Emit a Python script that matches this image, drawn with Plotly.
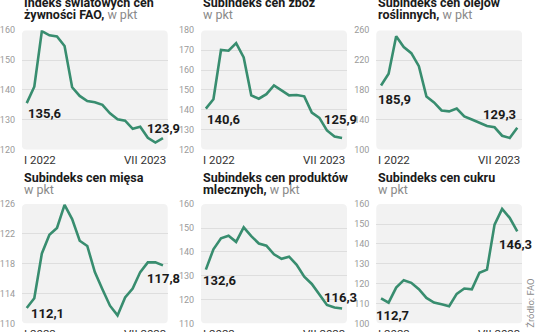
import plotly.graph_objects as go

# Monthly FAO price indices, January 2022 - July 2023 (points)
months = ["I 2022", "II 2022", "III 2022", "IV 2022", "V 2022", "VI 2022", "VII 2022",
          "VIII 2022", "IX 2022", "X 2022", "XI 2022", "XII 2022", "I 2023", "II 2023",
          "III 2023", "IV 2023", "V 2023", "VI 2023", "VII 2023"]

food = [135.6, 141.1, 159.7, 158.3, 157.9, 154.7, 140.9, 138.0, 136.3, 135.9,
        135.0, 132.2, 130.2, 129.7, 127.0, 127.7, 124.0, 122.4, 123.9]
cereals = [140.6, 145.3, 170.1, 169.7, 173.5, 166.3, 147.3, 145.6, 147.9, 152.3,
           149.8, 147.3, 147.5, 146.8, 138.6, 136.0, 129.7, 126.6, 125.9]
oils = [185.9, 201.7, 251.8, 237.5, 229.3, 211.8, 171.1, 163.3, 152.6, 151.3,
        155.2, 144.6, 140.4, 135.9, 131.8, 130.0, 118.7, 115.8, 129.3]
meat = [112.1, 113.4, 119.4, 121.9, 122.8, 125.9, 124.0, 121.1, 120.4, 116.9,
        114.6, 112.4, 111.1, 113.5, 114.7, 116.9, 118.2, 118.2, 117.8]
dairy = [132.6, 141.1, 145.7, 146.8, 144.2, 150.3, 146.6, 143.5, 142.6, 139.0,
         137.1, 138.0, 134.6, 129.6, 126.6, 122.4, 117.8, 116.7, 116.3]
sugar = [112.7, 110.5, 118.1, 121.8, 120.5, 117.3, 112.9, 110.6, 109.7, 108.7,
         114.9, 117.6, 117.2, 125.5, 127.1, 149.7, 157.6, 153.1, 146.3]

titles_line1 = ["Indeks światowych cen", "Subindeks cen zbóż", "Subindeks cen olejów",
                "Subindeks cen mięsa", "Subindeks cen produktów", "Subindeks cen cukru"]
titles_line2 = ["żywności FAO,", "", "roślinnych,", "", "mlecznych,", ""]
unit = "w pkt"

y_ticks = [
    [120, 130, 140, 150, 160],
    [120, 130, 140, 150, 160, 170, 180],
    [100, 140, 180, 220, 260],
    [110, 114, 118, 122, 126],
    [110, 120, 130, 140, 150, 160],
    [100, 110, 120, 130, 140, 150, 160],
]
series = [food, cereals, oils, meat, dairy, sugar]
source = "Źródło: FAO"

# ---- layout geometry (pixels) ----
W, H = 536, 332
col_left = [15, 196.5, 374]
panel_w = 148
row_top = [26, 205.3]
row_title_gap = [28.5, 27.5]   # distance from panel top to centre of first title line
panel_h = 123.2
x_range = [-0.65, len(months) - 1 + 0.65]

LINE = "#388d6f"
BG = "#f2f2f2"
GRID = "#dedede"
NARROW = "Liberation Sans Narrow, Roboto, sans-serif"
SANS = "Roboto, Liberation Sans, sans-serif"

# label offsets (px): (first dx, first dy, last dx, last dy), dy positive = up
label_offsets = [
    (-1, -10, 19, 10),
    (-1, -11, 17, 18),
    (-5, -14, 1, 13.5),
    (2, -6, 19, -13.5),
    (-5, -11, 17, 11),
    (-7, -17, 17, -13),
]


def fmt(v):
    return f"{v:.1f}".replace(".", ",")


fig = go.Figure()
annotations = []
shapes = []

for i, vals in enumerate(series):
    r, c = divmod(i, 3)
    n = i + 1
    xa = "x" if n == 1 else f"x{n}"
    ya = "y" if n == 1 else f"y{n}"
    left = col_left[c]
    top = row_top[r]
    x_dom = [left / W, (left + panel_w) / W]
    y_dom = [1 - (top + panel_h) / H, 1 - top / H]
    ticks = y_ticks[i]
    y_range = [ticks[0], ticks[-1]]

    fig.add_trace(go.Scatter(
        x=list(range(len(months))), y=vals, mode="lines",
        line=dict(color=LINE, width=2.6), xaxis=xa, yaxis=ya,
        hoverinfo="skip", showlegend=False,
    ))

    fig.layout[f"xaxis{'' if n == 1 else n}"] = dict(
        domain=x_dom, range=x_range, showgrid=False, zeroline=False,
        showticklabels=False, showline=False, anchor=ya, fixedrange=True,
    )
    fig.layout[f"yaxis{'' if n == 1 else n}"] = dict(
        domain=y_dom, range=y_range, tickvals=ticks, showgrid=True,
        gridcolor=GRID, gridwidth=1, zeroline=False, showline=False,
        ticks="outside", ticklen=4, tickcolor="rgba(0,0,0,0)",
        tickfont=dict(family=NARROW, size=9, color="#9a9a9a"),
        anchor=xa, fixedrange=True,
    )

    # rounded background panel
    px_x = panel_w / (x_range[1] - x_range[0])
    px_y = panel_h / (y_range[1] - y_range[0])
    rad = 5
    rx, ry = rad / px_x, rad / px_y
    x0, x1 = x_range
    y0, y1 = y_range
    path = (f"M {x0 + rx},{y0} L {x1 - rx},{y0} Q {x1},{y0} {x1},{y0 + ry} "
            f"L {x1},{y1 - ry} Q {x1},{y1} {x1 - rx},{y1} "
            f"L {x0 + rx},{y1} Q {x0},{y1} {x0},{y1 - ry} "
            f"L {x0},{y0 + ry} Q {x0},{y0} {x0 + rx},{y0} Z")
    shapes.append(dict(type="path", path=path, xref=xa, yref=ya,
                       fillcolor=BG, line=dict(width=0), layer="below"))

    # titles
    base = top - row_title_gap[r]
    l2 = titles_line2[i]
    line2 = (f"<b>{l2}</b> " if l2 else "") + f"<span style='color:#8a8a8a'>{unit}</span>"
    annotations.append(dict(
        text=f"<b>{titles_line1[i]}</b>", xref="paper", yref="paper",
        x=left / W, y=1 - base / H, xanchor="left", yanchor="middle",
        showarrow=False, font=dict(family=SANS, size=12.5, color="#1a1a1a"),
    ))
    annotations.append(dict(
        text=line2, xref="paper", yref="paper",
        x=left / W, y=1 - (base + 12.8) / H, xanchor="left", yanchor="middle",
        showarrow=False, font=dict(family=SANS, size=12.5, color="#1a1a1a"),
    ))

    # first / last month labels
    annotations.append(dict(
        text=months[0], xref=f"{xa} domain", yref=f"{ya} domain", x=0, y=0,
        xanchor="left", yanchor="top", yshift=-1, showarrow=False,
        font=dict(family=SANS, size=11.5, color="#333333"),
    ))
    annotations.append(dict(
        text=months[-1], xref=f"{xa} domain", yref=f"{ya} domain", x=1, y=0,
        xanchor="right", yanchor="top", yshift=-1, showarrow=False,
        font=dict(family=SANS, size=11.5, color="#333333"),
    ))

    # value labels at the first and last point
    fdx, fdy, ldx, ldy = label_offsets[i]
    annotations.append(dict(
        text=fmt(vals[0]), xref=xa, yref=ya, x=0, y=vals[0],
        xanchor="left", yanchor="middle", xshift=fdx, yshift=fdy,
        showarrow=False, font=dict(family=SANS, size=13, color="#1a1a1a", weight="bold"),
    ))
    annotations.append(dict(
        text=fmt(vals[-1]), xref=xa, yref=ya, x=len(vals) - 1, y=vals[-1],
        xanchor="right", yanchor="middle", xshift=ldx, yshift=ldy,
        showarrow=False, font=dict(family=SANS, size=13, color="#1a1a1a", weight="bold"),
    ))

annotations.append(dict(
    text=source, xref="paper", yref="paper", x=531 / W, y=1 - 308 / H,
    xanchor="center", yanchor="middle", textangle=-90, showarrow=False,
    font=dict(family=SANS, size=9.5, color="#8c8c8c"),
))

fig.update_layout(
    width=W, height=H, margin=dict(l=0, r=0, t=0, b=0),
    paper_bgcolor="white", plot_bgcolor="rgba(0,0,0,0)",
    annotations=annotations, shapes=shapes, showlegend=False,
)

fig.write_html("out.html", config={"displayModeBar": False})
